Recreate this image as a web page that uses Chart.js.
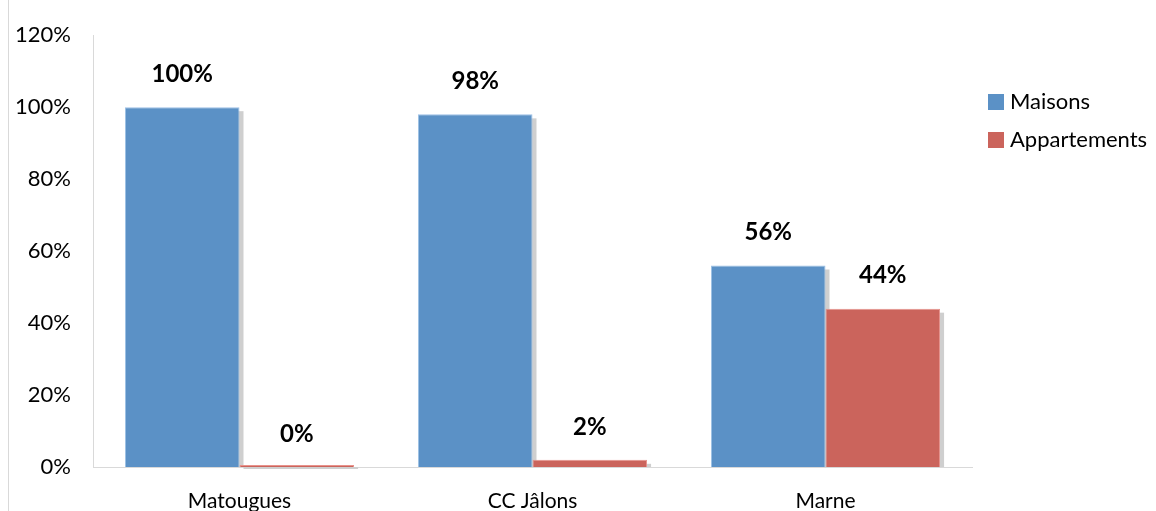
<!DOCTYPE html>
<html>
<head>
<meta charset="utf-8">
<script src="https://cdn.jsdelivr.net/npm/chart.js@4"></script>
<style>
  html, body { margin: 0; padding: 0; background: #fff; }
  #wrap { width: 1156px; height: 511px; }
</style>
</head>
<body>
<div id="wrap"><canvas id="chart" width="1156" height="511"></canvas></div>
<script>
// Data
const categories = ['Matougues', 'CC Jâlons', 'Marne'];
const maisons = [100, 98, 56];
const appartements = [0, 2, 44];
const yTicks = [0, 20, 40, 60, 80, 100, 120];

const FONT = 'Lato, Calibri, sans-serif';
const TEXT = '#000000';
const AXIS = '#d9d9d9';

// Offset grey shadow behind every bar (the bar element clips its own
// drawing, so the shadow is painted as a separate rectangle first)
const barShadow = {
  id: 'barShadow',
  beforeDatasetsDraw(chart) {
    const ctx = chart.ctx;
    ctx.save();
    ctx.fillStyle = '#cfcfcf';
    chart.data.datasets.forEach((ds, i) => {
      chart.getDatasetMeta(i).data.forEach(bar => {
        const p = bar.getProps(['x', 'y', 'base', 'width'], true);
        const left = p.x - p.width / 2;
        const top = Math.min(p.y, p.base);
        const h = Math.abs(p.base - p.y);
        ctx.fillRect(left + 4, top + 4, p.width, h - 4);
      });
    });
    ctx.restore();
  }
};

// Bold value labels above the bars
const valueLabels = {
  id: 'valueLabels',
  afterDatasetsDraw(chart) {
    const ctx = chart.ctx;
    ctx.save();
    ctx.font = 'bold 24px ' + FONT;
    ctx.fillStyle = TEXT;
    ctx.textAlign = 'center';
    ctx.textBaseline = 'middle';
    chart.data.datasets.forEach((ds, i) => {
      chart.getDatasetMeta(i).data.forEach((bar, j) => {
        const y = chart.scales.y.getPixelForValue(ds.data[j]);
        ctx.fillText(ds.data[j] + '%', bar.x, y - 33);
      });
    });
    ctx.restore();
  }
};

// Legend on the right and the thin frame line on the left
const sideDecor = {
  id: 'sideDecor',
  afterDraw(chart) {
    const ctx = chart.ctx;
    ctx.save();
    ctx.strokeStyle = AXIS;
    ctx.lineWidth = 1;
    ctx.beginPath();
    ctx.moveTo(8.5, 0);
    ctx.lineTo(8.5, chart.height);
    ctx.stroke();

    ctx.font = '22px ' + FONT;
    ctx.textBaseline = 'middle';
    ctx.textAlign = 'left';
    chart.data.datasets.forEach((ds, i) => {
      const cy = 102 + i * 38;
      ctx.fillStyle = ds.backgroundColor;
      ctx.fillRect(988, cy - 8, 16, 16);
      ctx.fillStyle = TEXT;
      ctx.fillText(ds.label, 1010, cy);
    });
    ctx.restore();
  }
};

const ctx = document.getElementById('chart').getContext('2d');
new Chart(ctx, {
  type: 'bar',
  data: {
    labels: categories,
    datasets: [
      {
        label: 'Maisons',
        data: maisons,
        backgroundColor: '#5b91c6',
        borderColor: '#9cc0e6',
        borderWidth: 1,
        minBarLength: 2
      },
      {
        label: 'Appartements',
        data: appartements,
        backgroundColor: '#cb645c',
        borderColor: '#e8938c',
        borderWidth: 1,
        minBarLength: 2
      }
    ]
  },
  options: {
    responsive: false,
    animation: false,
    events: [],
    layout: { padding: { top: 32, right: 184, bottom: 0, left: 0 } },
    datasets: {
      bar: { categoryPercentage: 0.782, barPercentage: 1 }
    },
    scales: {
      x: {
        grid: { display: false, drawTicks: false },
        border: { color: AXIS, width: 1 },
        ticks: {
          color: TEXT,
          font: { family: FONT, size: 21 },
          padding: 22
        },
        afterFit(scale) { scale.height = 44; }
      },
      y: {
        min: 0,
        max: 120,
        afterBuildTicks(scale) {
          scale.ticks = yTicks.map(v => ({ value: v }));
        },
        grid: { display: false, drawTicks: false },
        border: { color: AXIS, width: 1 },
        ticks: {
          color: TEXT,
          font: { family: FONT, size: 22 },
          padding: 22,
          callback: v => v + '%'
        },
        afterFit(scale) { scale.width = 93; }
      }
    },
    plugins: {
      legend: { display: false },
      tooltip: { enabled: false }
    }
  },
  plugins: [barShadow, valueLabels, sideDecor]
});
</script>
</body>
</html>
